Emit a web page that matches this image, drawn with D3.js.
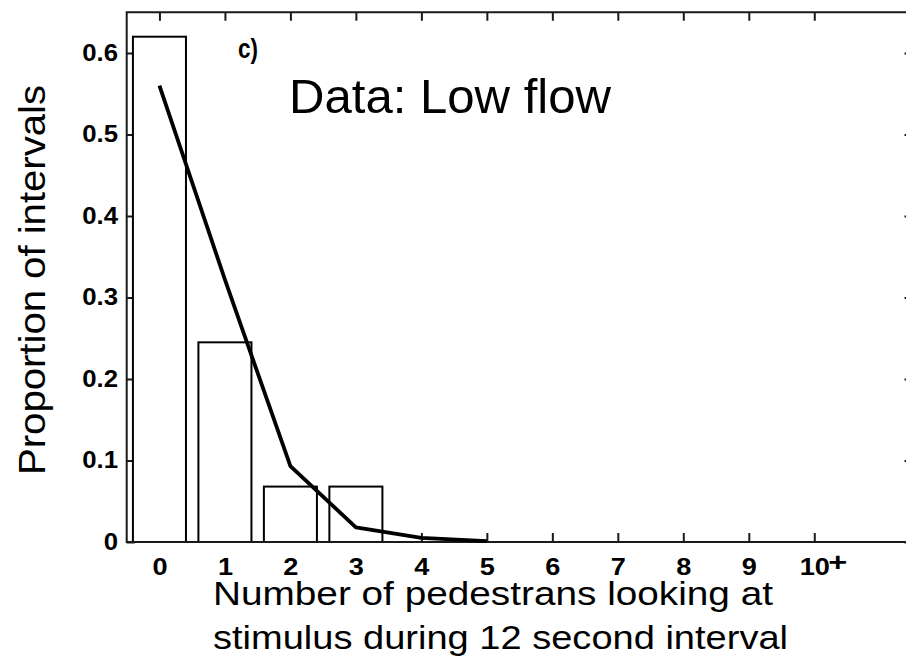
<!DOCTYPE html>
<html>
<head>
<meta charset="utf-8">
<script src="https://cdn.jsdelivr.net/npm/d3@7"></script>
<style>
  html, body { margin: 0; padding: 0; background: #fff; }
  svg { display: block; }
  text { font-family: "Liberation Sans", Arial, Helvetica, sans-serif; fill: #000; }
</style>
</head>
<body>
<script>
// Number of pedestrians looking at the stimulus per 12 s interval
const categories = [0, 1, 2, 3, 4, 5, 6, 7, 8, 9, 10];
const xTickLabels = ["0", "1", "2", "3", "4", "5", "6", "7", "8", "9", "10"];
// Observed proportion of intervals (bars)
const observed = [0.62, 0.245, 0.068, 0.068, 0, 0, 0, 0, 0, 0, 0];
// Fitted model curve
const modelCats = [0, 1, 2, 3, 4, 5];
const modelValues = [0.56, 0.322, 0.093, 0.018, 0.005, 0.001];
const yTicks = [0, 0.1, 0.2, 0.3, 0.4, 0.5, 0.6];
const yTickLabels = ["0", "0.1", "0.2", "0.3", "0.4", "0.5", "0.6"];

const W = 906, H = 661;
const plotLeft = 126.7, plotRight = 912.5, plotTop = 12.25, plotBottom = 542;

const svg = d3.select("body").append("svg")
  .attr("width", W).attr("height", H);

const x = d3.scaleLinear().domain([-0.5, 11.5]).range([plotLeft, plotRight]);
const y = d3.scaleLinear().domain([0, 0.65]).range([plotBottom, plotTop]);

const axisColor = "#1a1a1a";

function styleAxis(g) {
  g.select(".domain").remove();
  g.selectAll(".tick line").attr("stroke", axisColor).attr("stroke-width", 2);
}

function styleLabels(g, factor) {
  g.selectAll(".tick text")
    .style("font-size", "23px").style("font-weight", "bold")
    .attr("fill", "#000")
    .each(function () {
      const len = this.getComputedTextLength();
      d3.select(this).attr("textLength", len * factor).attr("lengthAdjust", "spacingAndGlyphs");
    });
}

// Tick marks on all four sides (drawn first so bars cover them)
svg.append("g").attr("transform", `translate(0,${plotBottom})`)
  .call(d3.axisBottom(x).tickValues(categories).tickSizeInner(-9).tickSizeOuter(0)
    .tickPadding(16.8).tickFormat((d, i) => xTickLabels[i]))
  .call(styleAxis)
  .call(g => styleLabels(g, 1.18));

svg.append("g").attr("transform", `translate(0,${plotTop})`)
  .call(d3.axisTop(x).tickValues(categories).tickSizeInner(-8.5).tickSizeOuter(0).tickFormat(""))
  .call(styleAxis);

svg.append("g").attr("transform", `translate(${plotLeft},0)`)
  .call(d3.axisLeft(y).tickValues(yTicks).tickSizeInner(-8).tickSizeOuter(0)
    .tickPadding(8.7).tickFormat((d, i) => yTickLabels[i]))
  .call(styleAxis)
  .call(g => styleLabels(g, 1.12));

svg.append("g").attr("transform", `translate(${plotRight},0)`)
  .call(d3.axisRight(y).tickValues(yTicks).tickSizeInner(-8).tickSizeOuter(0).tickFormat(""))
  .call(styleAxis);

// Superscript "+" on the last category label
svg.append("text")
  .attr("x", x(10) + 14).attr("y", 571)
  .style("font-size", "26px").style("font-weight", "bold")
  .attr("textLength", 19).attr("lengthAdjust", "spacingAndGlyphs")
  .text("+");

// Bars
const barW = 0.81;
svg.append("g").selectAll("rect")
  .data(categories.map((c, i) => ({ c, v: observed[i] })).filter(d => d.v > 0))
  .join("rect")
  .attr("x", d => x(d.c - barW / 2))
  .attr("width", d => x(d.c + barW / 2) - x(d.c - barW / 2))
  .attr("y", d => y(d.v))
  .attr("height", d => y(0) - y(d.v))
  .attr("fill", "#fff")
  .attr("stroke", "#000")
  .attr("stroke-width", 2);

// Axes box
svg.append("rect")
  .attr("x", plotLeft).attr("y", plotTop)
  .attr("width", plotRight - plotLeft).attr("height", plotBottom - plotTop)
  .attr("fill", "none").attr("stroke", axisColor).attr("stroke-width", 2);

// Model line
svg.append("path")
  .datum(modelCats.map((c, i) => [c, modelValues[i]]))
  .attr("fill", "none")
  .attr("stroke", "#000")
  .attr("stroke-width", 3.8)
  .attr("stroke-linejoin", "round")
  .attr("d", d3.line().x(d => x(d[0])).y(d => y(d[1])));

// Panel letter
svg.append("text")
  .attr("x", 238).attr("y", 58)
  .style("font-size", "27px").style("font-weight", "bold")
  .attr("textLength", 20).attr("lengthAdjust", "spacingAndGlyphs")
  .text("c)");

// Annotation
svg.append("text")
  .attr("x", 289).attr("y", 113)
  .style("font-size", "48px")
  .attr("textLength", 322).attr("lengthAdjust", "spacingAndGlyphs")
  .text("Data: Low flow");

// X axis title (two lines)
svg.append("text")
  .attr("x", 213).attr("y", 605)
  .style("font-size", "32.5px")
  .attr("textLength", 560).attr("lengthAdjust", "spacingAndGlyphs")
  .text("Number of pedestrans looking at");
svg.append("text")
  .attr("x", 213).attr("y", 649)
  .style("font-size", "32.5px")
  .attr("textLength", 575).attr("lengthAdjust", "spacingAndGlyphs")
  .text("stimulus during 12 second interval");

// Y axis title
svg.append("text")
  .attr("transform", "translate(45,280) rotate(-90)")
  .attr("text-anchor", "middle")
  .style("font-size", "37px")
  .attr("textLength", 390).attr("lengthAdjust", "spacingAndGlyphs")
  .text("Proportion of intervals");
</script>
</body>
</html>
